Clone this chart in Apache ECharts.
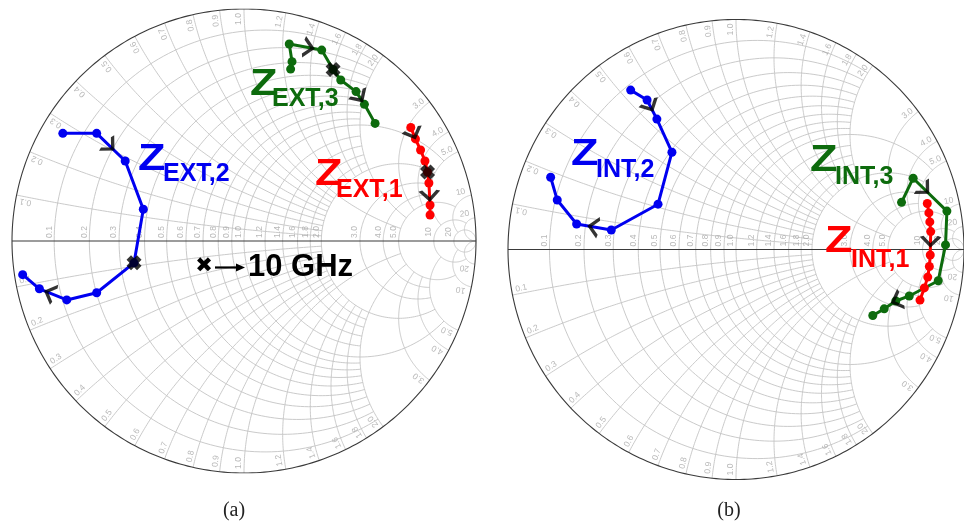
<!DOCTYPE html>
<html><head><meta charset="utf-8">
<script src="https://cdn.jsdelivr.net/npm/echarts@6/dist/echarts.min.js"></script>
<style>html,body{margin:0;padding:0;background:#fff}#c{width:964px;height:523px}</style>
</head><body><div id="c"></div>
<script>
// Smith chart grid values (normalized resistance / reactance) and their labels
const zValues = [0.1,0.2,0.3,0.4,0.5,0.6,0.7,0.8,0.9,1.0,1.2,1.4,1.6,1.8,2.0,3.0,4.0,5.0,10,20];
const zLabels = ['0.1','0.2','0.3','0.4','0.5','0.6','0.7','0.8','0.9','1.0','1.2','1.4','1.6','1.8','2.0','3.0','4.0','5.0','10','20'];
const zLimits = [2,2,2,2,2,2,2,2,2,5,2,2,2,2,5,5,5,10,20,Infinity];

// Reflection coefficients (Re, Im), chart (a)
const zExt2 = [[-0.781,0.464],[-0.635,0.464],[-0.512,0.345],[-0.434,0.137],[-0.474,-0.094],[-0.635,-0.223],[-0.764,-0.254],[-0.882,-0.206],[-0.954,-0.145]];
const zExt3 = [[0.201,0.741],[0.207,0.773],[0.195,0.849],[0.335,0.823],[0.384,0.739],[0.417,0.694],[0.483,0.644],[0.519,0.589],[0.565,0.507]];
const zExt1 = [[0.719,0.489],[0.739,0.440],[0.761,0.392],[0.780,0.345],[0.791,0.297],[0.797,0.250],[0.802,0.155],[0.802,0.112]];
// chart (b)
const zInt2 = [[-0.462,0.693],[-0.390,0.650],[-0.347,0.567],[-0.281,0.423],[-0.342,0.197],[-0.547,0.085],[-0.699,0.111],[-0.784,0.215],[-0.813,0.314]];
const zInt3 = [[0.726,0.205],[0.777,0.310],[0.925,0.167],[0.919,0.020],[0.887,-0.136],[0.760,-0.202],[0.701,-0.224],[0.650,-0.258],[0.600,-0.287]];
const zInt1 = [[0.839,0.200],[0.846,0.159],[0.850,0.120],[0.854,0.078],[0.852,-0.024],[0.848,-0.074],[0.841,-0.120],[0.826,-0.167],[0.807,-0.220]];

// direction arrows: [segment index, fraction along segment]
const ext2Arrows = [[1,0.45],[6,0.6]];
const ext3Arrows = [[2,0.58],[6,0.4]];
const ext1Arrows = [[0,0.5],[5,0.55]];
const int2Arrows = [[1,0.3],[5,0.5]];
const int3Arrows = [[1,0.33],[5,0.9]];
const int1Arrows = [[3,0.4]];
// index of the 10 GHz point
const ext2Mark = 4, ext3Mark = 4, ext1Mark = 4;

const BLUE = '#0000f0', GREEN = '#0d6b0d', RED = '#ff0000';
const GRIDC = '#c4c4c4', LABC = '#a6a6a6';

function gamma(r, x) {
  const a = r - 1, c = r + 1, den = c * c + x * x;
  return [(a * c + x * x) / den, (x * c - a * x) / den];
}
function resCircle(r, xmax) {
  const c = r / (1 + r), rho = 1 / (1 + r);
  let pm = 0;
  if (isFinite(xmax)) { const g = gamma(r, xmax); pm = Math.atan2(g[1], g[0] - c); }
  const pts = [], N = 160;
  for (let i = 0; i <= N; i++) {
    const p = pm + (2 * Math.PI - 2 * pm) * i / N;
    pts.push([c + rho * Math.cos(p), rho * Math.sin(p)]);
  }
  return pts;
}
function reactArc(x, rmax) {
  const cy = 1 / x, rho = 1 / x;
  const g0 = gamma(0, x);
  let p0 = Math.atan2(g0[1] - cy, g0[0] - 1); if (p0 < 0) p0 += 2 * Math.PI;
  let p1 = 1.5 * Math.PI;
  if (isFinite(rmax)) { const g1 = gamma(rmax, x); p1 = Math.atan2(g1[1] - cy, g1[0] - 1); if (p1 < 0) p1 += 2 * Math.PI; }
  const pts = [], N = 120;
  for (let i = 0; i <= N; i++) {
    const p = p0 + (p1 - p0) * i / N;
    pts.push([1 + rho * Math.cos(p), cy + rho * Math.sin(p)]);
  }
  return pts;
}
function gridLines() {
  const out = [];
  zValues.forEach((v, i) => {
    out.push({coords: resCircle(v, zLimits[i])});
    const a = reactArc(v, zLimits[i]);
    out.push({coords: a});
    out.push({coords: a.map(p => [p[0], -p[1]])});
  });
  return out;
}
function gridLabels(R) {
  const d = [];
  const up = 9 / R, side = 5 / R, rin = 10 / R;
  zValues.forEach((v, i) => {
    const g = (v - 1) / (v + 1);
    d.push({name: zLabels[i], value: [g - side, up], label: {rotate: 90}});
    const th = Math.PI - 2 * Math.atan(v);
    let dx = Math.cos(th), dy = Math.sin(th), ux = -dy, uy = dx;
    d.push({name: zLabels[i], value: [dx - rin * dx + side * ux, dy - rin * dy + side * uy], label: {rotate: th * 180 / Math.PI}});
    const tb = -th, rho = tb + Math.PI;
    const ax = Math.cos(tb), ay = Math.sin(tb);
    dx = Math.cos(rho); dy = Math.sin(rho); ux = -dy; uy = dx;
    let rd = rho * 180 / Math.PI; if (rd > 180) rd -= 360;
    d.push({name: zLabels[i], value: [ax + rin * dx + side * ux, ay + rin * dy + side * uy], label: {rotate: rd}});
  });
  return d;
}
function arrowData(pts, arrows) {
  return arrows.map(([s, f]) => {
    const a = pts[s], b = pts[s + 1];
    const ang = Math.atan2(b[1] - a[1], b[0] - a[0]) * 180 / Math.PI;
    return {value: [a[0] + (b[0] - a[0]) * f, a[1] + (b[1] - a[1]) * f], symbolRotate: ang};
  });
}
const CHEV = 'path://M0,0 L8,8 L0,16';
const XMARK = 'path://M0,3 L3,0 L5,2 L7,0 L10,3 L8,5 L10,7 L7,10 L5,8 L3,10 L0,7 L2,5 Z';

const charts = [
  {left: 12, top: 9, size: 464, R: 232, curves: [[zExt2, BLUE, ext2Arrows, ext2Mark], [zExt3, GREEN, ext3Arrows, ext3Mark], [zExt1, RED, ext1Arrows, ext1Mark]]},
  {left: 508, top: 19.5, size: 460, R: 230, curves: [[zInt2, BLUE, int2Arrows, -1], [zInt3, GREEN, int3Arrows, -1], [zInt1, RED, int1Arrows, -1]]}
];

const grid = [], xAxis = [], yAxis = [], series = [];
charts.forEach((c, k) => {
  grid.push({left: c.left, top: c.top, width: c.size, height: c.size, containLabel: false});
  xAxis.push({type: 'value', min: -1, max: 1, show: false, gridIndex: k});
  yAxis.push({type: 'value', min: -1, max: 1, show: false, gridIndex: k});
  const ax = {xAxisIndex: k, yAxisIndex: k};
  series.push(Object.assign({type: 'lines', coordinateSystem: 'cartesian2d', polyline: true, silent: true, z: 1,
    lineStyle: {color: GRIDC, width: 0.9, opacity: 1}, data: gridLines()}, ax));
  const circ = []; for (let i = 0; i <= 360; i++) circ.push([Math.cos(i * Math.PI / 180), Math.sin(i * Math.PI / 180)]);
  series.push(Object.assign({type: 'lines', coordinateSystem: 'cartesian2d', polyline: true, silent: true, z: 2,
    lineStyle: {color: '#3a3a3a', width: 1.1, opacity: 1}, data: [{coords: circ}, {coords: [[-1, 0], [1, 0]]}]}, ax));
  series.push(Object.assign({type: 'scatter', silent: true, z: 2, symbolSize: 1, itemStyle: {color: 'rgba(0,0,0,0)'},
    label: {show: true, position: 'inside', formatter: '{b}', color: LABC, fontSize: 8.5, fontFamily: 'Liberation Sans'},
    labelLayout: {hideOverlap: false}, data: gridLabels(c.R)}, ax));
  c.curves.forEach(([pts, col, arr, mk]) => {
    series.push(Object.assign({type: 'line', z: 5, data: pts, symbol: 'circle', symbolSize: 9, showAllSymbol: true,
      clip: false, lineStyle: {color: col, width: 3}, itemStyle: {color: col}}, ax));
    series.push(Object.assign({type: 'scatter', z: 6, symbol: CHEV, symbolSize: [9, 18],
      itemStyle: {color: 'rgba(0,0,0,0)', borderColor: '#000', borderWidth: 3}, data: arrowData(pts, arr)}, ax));
    if (mk >= 0) series.push(Object.assign({type: 'scatter', z: 7, symbol: XMARK, symbolSize: 15,
      itemStyle: {color: '#000'}, data: [pts[mk]]}, ax));
  });
});

function zlab(x, y, sub, subX, subY, col) {
  return [
    {type: 'text', x: x, y: y, scaleX: 1.25, z: 10, style: {text: 'Z', font: 'bold 36px "Liberation Sans", Arial, sans-serif', fill: col, textAlign: 'left', textVerticalAlign: 'middle', align: 'left', verticalAlign: 'middle'}},
    {type: 'text', x: subX, y: subY, z: 10, style: {text: sub, font: 'bold 25px "Liberation Sans", Arial, sans-serif', fill: col, textAlign: 'left', textVerticalAlign: 'middle', align: 'left', verticalAlign: 'middle'}}
  ];
}
const graphic = [].concat(
  zlab(138, 160, 'EXT,2', 163, 174, BLUE),
  zlab(250, 85, 'EXT,3', 272, 99, GREEN),
  zlab(315, 175, 'EXT,1', 336, 190, RED),
  zlab(571, 155, 'INT,2', 596, 170, BLUE),
  zlab(810, 161, 'INT,3', 835, 177, GREEN),
  zlab(825, 242, 'INT,1', 851, 260, RED),
  [
    {type: 'text', x: 204, y: 267, z: 10, style: {text: '\u2716', font: '21px "DejaVu Sans"', fill: '#000', textAlign: 'center', textVerticalAlign: 'middle', align: 'center', verticalAlign: 'middle'}},
    {type: 'line', z: 10, shape: {x1: 215, y1: 267.5, x2: 238, y2: 267.5}, style: {stroke: '#000', lineWidth: 2.2}},
    {type: 'polygon', z: 10, shape: {points: [[236, 263.5], [245, 267.5], [236, 271.5]]}, style: {fill: '#000'}},
    {type: 'text', x: 248, y: 267, z: 10, style: {text: '10 GHz', font: 'bold 31px "Liberation Sans", Arial, sans-serif', fill: '#000', textAlign: 'left', textVerticalAlign: 'middle', align: 'left', verticalAlign: 'middle'}},
    {type: 'text', x: 234, y: 511, z: 10, style: {text: '(a)', font: '20px "Liberation Serif", serif', fill: '#222', textAlign: 'center', textVerticalAlign: 'middle', align: 'center', verticalAlign: 'middle'}},
    {type: 'text', x: 729, y: 511, z: 10, style: {text: '(b)', font: '20px "Liberation Serif", serif', fill: '#222', textAlign: 'center', textVerticalAlign: 'middle', align: 'center', verticalAlign: 'middle'}}
  ]
);

const chart = echarts.init(document.getElementById('c'), null, {renderer: 'canvas'});
chart.setOption({animation: false, backgroundColor: '#fff', tooltip: {show: false}, grid, xAxis, yAxis, series, graphic});
</script>
</body></html>
